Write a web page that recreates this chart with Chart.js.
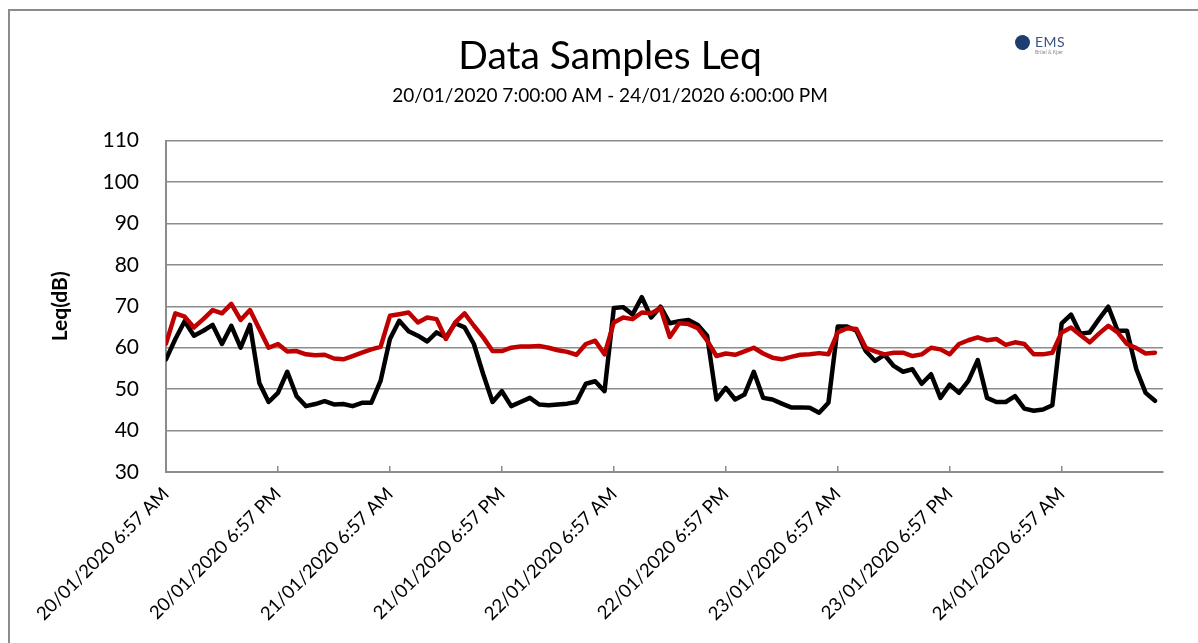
<!DOCTYPE html>
<html>
<head>
<meta charset="utf-8">
<title>Data Samples Leq</title>
<script src="https://cdn.jsdelivr.net/npm/chart.js@4.4.1/dist/chart.umd.min.js"></script>
<style>
    html, body { margin: 0; padding: 0; background: #fff; }
    #wrap { position: relative; width: 1198px; height: 643px; overflow: hidden; }
    #frame {
        position: absolute; left: 8px; top: 9px; width: 1200px; height: 640px;
        border-left: 2px solid #8c8c8c; border-top: 2px solid #8c8c8c;
    }
    #logo { position: absolute; left: 1014px; top: 33px; font-family: Lato, sans-serif; }
    #logo .dot {
        position: absolute; left: 1px; top: 2px; width: 15px; height: 15px;
        border-radius: 50%; background: #1d3e70;
    }
    #logo .name { position: absolute; left: 21px; top: 0; font-size: 14px; color: #3a5480; letter-spacing: 0.5px; }
    #logo .sub { position: absolute; left: 21px; top: 16px; font-size: 5px; color: #8a8a8a; white-space: nowrap; }
</style>
</head>
<body>
<div id="wrap">
    <div id="frame"></div>
    <canvas id="chart" width="1198" height="643"></canvas>
    <div id="logo"><div class="dot"></div><div class="name">EMS</div><div class="sub">Brüel &amp; Kjær</div></div>
</div>
<script>
// --- dados (uma amostra por hora, a partir de 20/01/2020 6:57 AM) ---
const tickLabels = [
    "20/01/2020 6:57 AM", "20/01/2020 6:57 PM",
    "21/01/2020 6:57 AM", "21/01/2020 6:57 PM",
    "22/01/2020 6:57 AM", "22/01/2020 6:57 PM",
    "23/01/2020 6:57 AM", "23/01/2020 6:57 PM",
    "24/01/2020 6:57 AM"
];

const leqBlack = [
    57.2, 62.1, 66.4, 62.9, 64.1, 65.5, 60.9, 65.3, 60.0, 65.5,
    51.5, 46.9, 49.1, 54.2, 48.3, 45.9, 46.4, 47.1, 46.3, 46.4,
    45.9, 46.7, 46.7, 52.0, 62.1, 66.5, 64.0, 62.9, 61.5, 63.7,
    62.5, 65.9, 64.9, 60.9, 53.6, 46.9, 49.5, 45.9, 46.9, 47.9,
    46.3, 46.1, 46.3, 46.5, 46.9, 51.3, 51.9, 49.5, 69.6, 69.8,
    68.0, 72.2, 67.3, 69.9, 65.9, 66.4, 66.7, 65.5, 62.9, 47.5,
    50.3, 47.5, 48.7, 54.2, 47.9, 47.5, 46.5, 45.6, 45.6, 45.5,
    44.3, 46.7, 65.1, 65.1, 64.1, 59.2, 56.8, 58.3, 55.6, 54.2,
    54.8, 51.3, 53.6, 47.9, 51.1, 49.1, 52.0, 57.0, 47.9, 46.9,
    46.9, 48.3, 45.3, 44.8, 45.1, 46.1, 65.9, 68.0, 63.4, 63.7,
    66.9, 69.9, 64.1, 64.1, 54.8, 49.1, 47.2
];

const leqRed = [
    61.0, 68.3, 67.5, 64.9, 66.9, 69.1, 68.3, 70.6, 66.7, 69.1,
    64.5, 60.0, 60.9, 59.1, 59.2, 58.4, 58.2, 58.3, 57.4, 57.2,
    58.0, 58.8, 59.6, 60.2, 67.7, 68.1, 68.5, 66.1, 67.3, 66.9,
    62.1, 66.1, 68.3, 65.3, 62.5, 59.2, 59.2, 60.0, 60.3, 60.3,
    60.4, 60.0, 59.4, 59.0, 58.3, 60.9, 61.7, 58.4, 66.1, 67.3,
    66.9, 68.5, 68.3, 69.6, 62.6, 65.9, 65.7, 64.7, 61.7, 58.0,
    58.6, 58.3, 59.1, 60.0, 58.6, 57.6, 57.2, 57.8, 58.3, 58.4,
    58.7, 58.4, 63.7, 64.7, 64.5, 60.0, 59.1, 58.4, 58.8, 58.8,
    58.0, 58.4, 60.0, 59.6, 58.4, 60.9, 61.8, 62.5, 61.8, 62.1,
    60.7, 61.3, 60.9, 58.4, 58.4, 58.8, 63.7, 64.9, 63.1, 61.3,
    63.4, 65.3, 63.7, 60.9, 59.9, 58.6, 58.8
];

const HOURS_PER_TICK = 12;
const GRID = "#8c8c8c";
const FONT = "Lato, 'Open Sans', sans-serif";

// pontos {x: hora, y: valor}
const toPoints = arr => arr.map((v, i) => ({ x: i, y: v }));

new Chart(document.getElementById("chart"), {
    type: "line",
    data: {
        datasets: [
            {
                label: "Leq",
                data: toPoints(leqRed),
                borderColor: "#c00000",
                borderWidth: 4.5,
                pointRadius: 0,
                borderJoinStyle: "round",
                borderCapStyle: "round",
                order: 1
            },
            {
                label: "Leq 2",
                data: toPoints(leqBlack),
                borderColor: "#000000",
                borderWidth: 4.5,
                pointRadius: 0,
                borderJoinStyle: "round",
                borderCapStyle: "round",
                order: 2
            }
        ]
    },
    options: {
        responsive: false,
        animation: false,
        layout: { padding: { left: 57, right: 35, top: 0, bottom: 0 } },
        plugins: {
            legend: { display: false },
            tooltip: { enabled: false },
            title: {
                display: true,
                text: "Data Samples Leq",
                color: "#000",
                font: { family: FONT, size: 39, weight: "normal" },
                padding: { top: 33, bottom: 0 }
            },
            subtitle: {
                display: true,
                text: "20/01/2020 7:00:00 AM - 24/01/2020 6:00:00 PM",
                color: "#000",
                font: { family: FONT, size: 19 },
                padding: { top: 5, bottom: 33 }
            }
        },
        scales: {
            x: {
                type: "linear",
                min: 0,
                max: 106.86,
                afterBuildTicks: s => {
                    s.ticks = tickLabels.map((_, k) => ({ value: k * HOURS_PER_TICK }));
                },
                afterFit: s => { s.height = 171; },
                ticks: {
                    callback: v => tickLabels[v / HOURS_PER_TICK],
                    minRotation: 45,
                    maxRotation: 45,
                    color: "#000",
                    font: { family: FONT, size: 18.5 },
                    padding: 17
                },
                grid: { drawOnChartArea: false, drawTicks: true, tickLength: -6, color: GRID, lineWidth: 1.5 },
                border: { color: GRID, width: 2 }
            },
            y: {
                min: 30,
                max: 110,
                afterFit: s => { s.width = 109; },
                ticks: {
                    stepSize: 10,
                    color: "#000",
                    font: { family: FONT, size: 21 },
                    padding: 27
                },
                title: {
                    display: true,
                    text: "Leq(dB)",
                    color: "#000",
                    font: { family: FONT, size: 21, weight: "bold" },
                    padding: { top: -9 }
                },
                grid: { drawTicks: false, color: GRID, lineWidth: 1.5 },
                border: { color: GRID, width: 2 }
            }
        }
    }
});
</script>
</body>
</html>
